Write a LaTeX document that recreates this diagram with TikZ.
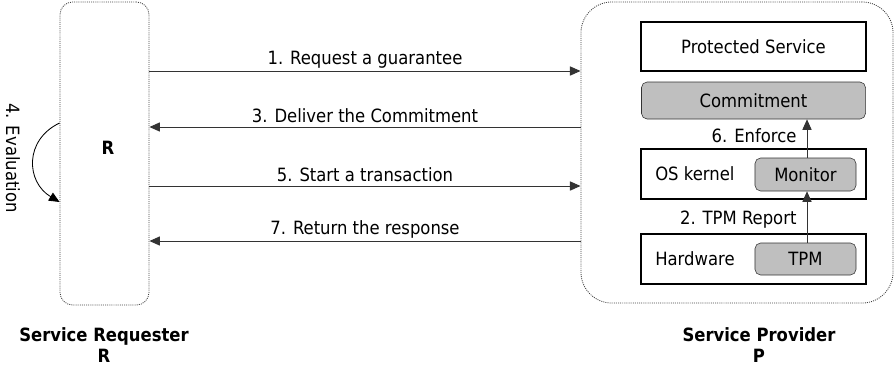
\documentclass[tikz,border=0pt]{standalone}
\usepackage{fontspec}
\setmainfont{DejaVu Sans Condensed}
\usetikzlibrary{arrows.meta}

\begin{document}
\begin{tikzpicture}[x=0.025cm, y=-0.025cm, font=\fontsize{13}{15}\selectfont,
		party/.style = {draw=black!75, line width=0.6pt, dash pattern=on 0.7pt off 0.8pt, inner sep=0pt},
		layer/.style = {draw, line width=1.4pt, minimum width=5.625cm, inner sep=0pt},
		module/.style = {draw=black!80, fill=black!25, rounded corners=4pt, inner sep=0pt},
		msg/.style = {draw=black!80, line width=0.7pt, -{Triangle[length=7.5pt,width=6.5pt]}},
		lbl/.style = {midway, yshift=0.28cm},
		caption/.style = {align=center, font=\fontsize{13}{14.5}\selectfont\bfseries}]
	\useasboundingbox (0,0) rectangle (894,370);
	% the two parties
	\node[party, rounded corners=9pt, minimum width=2.225cm, minimum height=7.575cm] (req) at (104.5,153.5) {};
	\node[font=\fontsize{13}{15}\selectfont\bfseries] (reqname) at (108,148) {R};
	\node[party, rounded corners=22pt, minimum width=7.8cm, minimum height=7.525cm] (prov) at (737,152.5) {};
	\node[caption] (reqcap) at (104,345) {Service Requester \\ R};
	\node[caption] (provcap) at (759,345) {Service Provider \\ P};
	% provider stack
	\node[layer, minimum height=1.225cm] (service) at (753.5,46.5) {Protected Service};
	\node[module, minimum width=5.6cm, minimum height=0.925cm] (commit) at (753.5,100.5) {Commitment};
	\node[layer, minimum height=1.25cm] (kernel) at (753.5,174) {};
	\node[anchor=west, inner sep=0pt] (kerneltxt) at (655,174) {OS kernel};
	\node[module, minimum width=2.525cm, minimum height=0.825cm] (monitor) at (805.5,174.5) {Monitor};
	\node[layer, minimum height=1.25cm] (hw) at (753.5,259) {};
	\node[anchor=west, inner sep=0pt] (hwtxt) at (655,259) {Hardware};
	\node[module, minimum width=2.525cm, minimum height=0.8cm] (tpm) at (805.5,259) {TPM};
	\draw[msg] (tpm.north -| 807,0) -- node[left, inner sep=0pt, xshift=-0.25cm, yshift=-2pt] {2. TPM Report} (monitor.south -| 807,0);
	\draw[msg] (monitor.north -| 807,0) -- node[left, inner sep=0pt, xshift=-0.25cm, yshift=2pt] {6. Enforce} (commit.south -| 807,0);
	% messages between R and P
	\draw[msg] (req.east |- 0,71) -- node[lbl] {1. Request a guarantee} (prov.west |- 0,71);
	\draw[msg] (prov.west |- 0,127) -- node[lbl] {3. Deliver the Commitment} (req.east |- 0,127);
	\draw[msg] (req.east |- 0,186) -- node[lbl] {5. Start a transaction} (prov.west |- 0,186);
	\draw[msg] (prov.west |- 0,241) -- node[lbl] {7. Return the response} (req.east |- 0,241);
	% local evaluation by R
	\draw[msg, draw=black, line width=0.6pt] (req.west |- 0,123) .. controls (24,140) and (26,182) .. (req.west |- 0,202);
	\node[rotate=-90] (evaltxt) at (13,158) {4. Evaluation};
\end{tikzpicture}
\end{document}
